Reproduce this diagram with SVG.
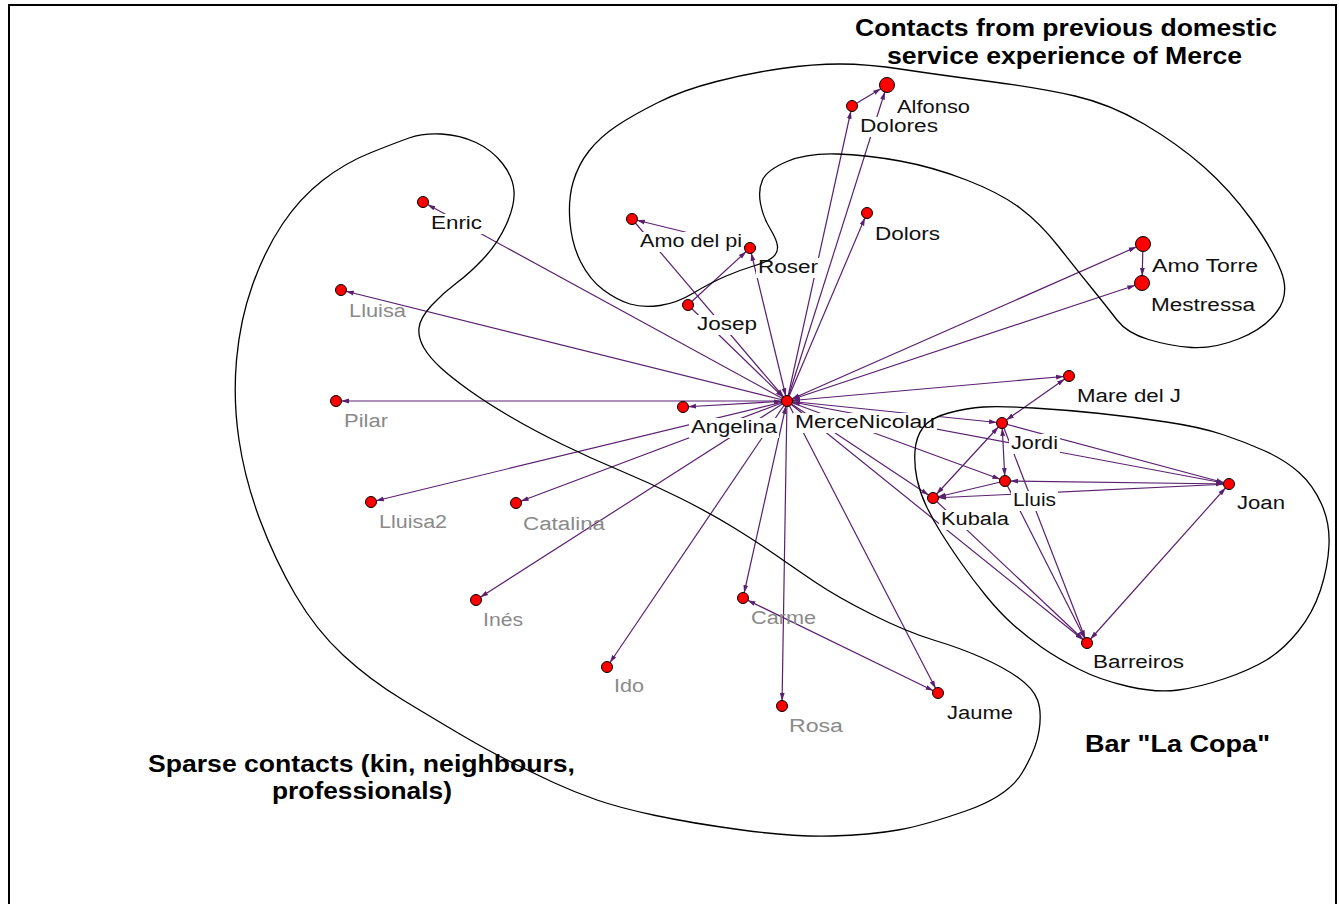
<svg xmlns="http://www.w3.org/2000/svg" width="1339" height="904" viewBox="0 0 1339 904">
<style>
.e{stroke:#5a2070;stroke-width:1.2;fill:none}
.n{fill:#ff0000;stroke:#000;stroke-width:1}
.lb{font-family:"Liberation Sans",Arial,sans-serif;font-size:18px;fill:#111}
.lg{font-family:"Liberation Sans",Arial,sans-serif;font-size:18px;fill:#8a8a8a}
.bg{fill:#fff}
.blob{fill:none;stroke:#000;stroke-width:1.3}
.t{font-family:"Liberation Sans",Arial,sans-serif;font-size:23px;font-weight:bold;fill:#000}
</style>
<defs>
<marker id="a" markerUnits="userSpaceOnUse" markerWidth="14" markerHeight="6" refX="13" refY="3" orient="auto-start-reverse"><path d="M0,0.6 L8,3 L0,5.4 z" fill="#5a2070"/></marker>
<marker id="ab" markerUnits="userSpaceOnUse" markerWidth="16" markerHeight="6" refX="15" refY="3" orient="auto-start-reverse"><path d="M0,0.6 L8,3 L0,5.4 z" fill="#5a2070"/></marker>
</defs>
<rect x="0" y="0" width="1339" height="904" fill="#fff"/>
<path d="M9,920 L9,5 L1336,5 L1336,920" fill="none" stroke="#000" stroke-width="2"/>
<g id="connectors">
<line class="e" x1="787" y1="401" x2="887" y2="85" marker-end="url(#ab)"/>
<line class="e" x1="787" y1="401" x2="852" y2="106" marker-end="url(#a)"/>
<line class="e" x1="852" y1="106" x2="887" y2="85" marker-end="url(#ab)"/>
<line class="e" x1="787" y1="401" x2="867" y2="213" marker-end="url(#a)"/>
<line class="e" x1="787" y1="401" x2="750" y2="248" marker-end="url(#a)" marker-start="url(#a)"/>
<line class="e" x1="787" y1="401" x2="632" y2="219" marker-start="url(#a)"/>
<line class="e" x1="750" y1="248" x2="632" y2="219" marker-end="url(#a)"/>
<line class="e" x1="688" y1="305" x2="750" y2="248" marker-end="url(#a)"/>
<line class="e" x1="688" y1="305" x2="787" y2="401" marker-end="url(#a)"/>
<line class="e" x1="787" y1="401" x2="423" y2="202" marker-end="url(#a)"/>
<line class="e" x1="787" y1="401" x2="1143" y2="244" marker-end="url(#ab)" marker-start="url(#a)"/>
<line class="e" x1="787" y1="401" x2="1142" y2="283" marker-end="url(#ab)" marker-start="url(#a)"/>
<line class="e" x1="1143" y1="244" x2="1142" y2="283" marker-end="url(#ab)"/>
<line class="e" x1="787" y1="401" x2="341" y2="290" marker-end="url(#a)"/>
<line class="e" x1="787" y1="401" x2="336" y2="401" marker-end="url(#a)"/>
<line class="e" x1="787" y1="401" x2="683" y2="407" marker-end="url(#a)" marker-start="url(#a)"/>
<line class="e" x1="787" y1="401" x2="371" y2="502" marker-end="url(#a)"/>
<line class="e" x1="787" y1="401" x2="516" y2="503" marker-end="url(#a)"/>
<line class="e" x1="787" y1="401" x2="476" y2="600" marker-end="url(#a)"/>
<line class="e" x1="787" y1="401" x2="607" y2="667" marker-end="url(#a)"/>
<line class="e" x1="787" y1="401" x2="743" y2="598" marker-end="url(#a)" marker-start="url(#a)"/>
<line class="e" x1="787" y1="401" x2="782" y2="706" marker-end="url(#a)"/>
<line class="e" x1="787" y1="401" x2="938" y2="693" marker-end="url(#a)"/>
<line class="e" x1="743" y1="598" x2="938" y2="693" marker-end="url(#a)" marker-start="url(#a)"/>
<line class="e" x1="787" y1="401" x2="1069" y2="376" marker-end="url(#a)" marker-start="url(#a)"/>
<line class="e" x1="1069" y1="376" x2="1002" y2="423" marker-end="url(#a)" marker-start="url(#a)"/>
<line class="e" x1="787" y1="401" x2="1002" y2="423" marker-end="url(#a)"/>
<line class="e" x1="787" y1="401" x2="1229" y2="484" marker-end="url(#a)" marker-start="url(#a)"/>
<line class="e" x1="787" y1="401" x2="1005" y2="481" marker-end="url(#a)"/>
<line class="e" x1="787" y1="401" x2="933" y2="498" marker-end="url(#a)"/>
<line class="e" x1="787" y1="401" x2="1087" y2="643" marker-end="url(#a)"/>
<line class="e" x1="933" y1="498" x2="1087" y2="643" marker-end="url(#a)"/>
<line class="e" x1="1002" y1="423" x2="1005" y2="481" marker-end="url(#a)" marker-start="url(#a)"/>
<line class="e" x1="1002" y1="423" x2="933" y2="498" marker-end="url(#a)" marker-start="url(#a)"/>
<line class="e" x1="1005" y1="481" x2="933" y2="498" marker-end="url(#a)"/>
<line class="e" x1="1229" y1="484" x2="933" y2="498" marker-end="url(#a)"/>
<line class="e" x1="1005" y1="481" x2="1229" y2="484" marker-end="url(#a)" marker-start="url(#a)"/>
<line class="e" x1="1002" y1="423" x2="1229" y2="484" marker-end="url(#a)"/>
<line class="e" x1="1002" y1="423" x2="1087" y2="643" marker-end="url(#a)"/>
<line class="e" x1="1005" y1="481" x2="1087" y2="643" marker-end="url(#a)"/>
<line class="e" x1="1229" y1="484" x2="1087" y2="643" marker-end="url(#a)" marker-start="url(#a)"/>
</g>
<g id="node-merce"><circle class="n" cx="787" cy="401" r="5.5"/><rect class="bg" x="793" y="413" width="144" height="20"/><text class="lb" x="795" y="428" textLength="140" lengthAdjust="spacingAndGlyphs">MerceNicolau</text></g>
<g id="node-angelina"><circle class="n" cx="683" cy="407" r="5.5"/><rect class="bg" x="689" y="418" width="90" height="20"/><text class="lb" x="691" y="433" textLength="86" lengthAdjust="spacingAndGlyphs">Angelina</text></g>
<g id="node-alfonso"><circle class="n" cx="887" cy="85" r="7.5"/><rect class="bg" x="895" y="98" width="77" height="20"/><text class="lb" x="897" y="113" textLength="73" lengthAdjust="spacingAndGlyphs">Alfonso</text></g>
<g id="node-dolores"><circle class="n" cx="852" cy="106" r="5.5"/><rect class="bg" x="858" y="117" width="82" height="20"/><text class="lb" x="860" y="132" textLength="78" lengthAdjust="spacingAndGlyphs">Dolores</text></g>
<g id="node-dolors"><circle class="n" cx="867" cy="213" r="5.5"/><rect class="bg" x="873" y="225" width="69" height="20"/><text class="lb" x="875" y="240" textLength="65" lengthAdjust="spacingAndGlyphs">Dolors</text></g>
<g id="node-amodelpi"><circle class="n" cx="632" cy="219" r="5.5"/><rect class="bg" x="638" y="232" width="106" height="20"/><text class="lb" x="640" y="247" textLength="102" lengthAdjust="spacingAndGlyphs">Amo del pi</text></g>
<g id="node-roser"><circle class="n" cx="750" cy="248" r="5.5"/><rect class="bg" x="756" y="258" width="64" height="20"/><text class="lb" x="758" y="273" textLength="60" lengthAdjust="spacingAndGlyphs">Roser</text></g>
<g id="node-josep"><circle class="n" cx="688" cy="305" r="5.5"/><rect class="bg" x="695" y="315" width="64" height="20"/><text class="lb" x="697" y="330" textLength="60" lengthAdjust="spacingAndGlyphs">Josep</text></g>
<g id="node-enric"><circle class="n" cx="423" cy="202" r="5.5"/><rect class="bg" x="429" y="214" width="55" height="20"/><text class="lb" x="431" y="229" textLength="51" lengthAdjust="spacingAndGlyphs">Enric</text></g>
<g id="node-amotorre"><circle class="n" cx="1143" cy="244" r="7.5"/><rect class="bg" x="1150" y="257" width="110" height="20"/><text class="lb" x="1152" y="272" textLength="106" lengthAdjust="spacingAndGlyphs">Amo Torre</text></g>
<g id="node-mestressa"><circle class="n" cx="1142" cy="283" r="7.5"/><rect class="bg" x="1149" y="296" width="108" height="20"/><text class="lb" x="1151" y="311" textLength="104" lengthAdjust="spacingAndGlyphs">Mestressa</text></g>
<g id="node-marej"><circle class="n" cx="1069" cy="376" r="5.5"/><rect class="bg" x="1075" y="387" width="108" height="20"/><text class="lb" x="1077" y="402" textLength="104" lengthAdjust="spacingAndGlyphs">Mare del J</text></g>
<g id="node-jordi"><circle class="n" cx="1002" cy="423" r="5.5"/><rect class="bg" x="1009" y="434" width="51" height="20"/><text class="lb" x="1011" y="449" textLength="47" lengthAdjust="spacingAndGlyphs">Jordi</text></g>
<g id="node-lluis"><circle class="n" cx="1005" cy="481" r="5.5"/><rect class="bg" x="1011" y="491" width="47" height="20"/><text class="lb" x="1013" y="506" textLength="43" lengthAdjust="spacingAndGlyphs">Lluis</text></g>
<g id="node-kubala"><circle class="n" cx="933" cy="498" r="5.5"/><rect class="bg" x="939" y="510" width="72" height="20"/><text class="lb" x="941" y="525" textLength="68" lengthAdjust="spacingAndGlyphs">Kubala</text></g>
<g id="node-joan"><circle class="n" cx="1229" cy="484" r="5.5"/><rect class="bg" x="1235" y="494" width="52" height="20"/><text class="lb" x="1237" y="509" textLength="48" lengthAdjust="spacingAndGlyphs">Joan</text></g>
<g id="node-barreiros"><circle class="n" cx="1087" cy="643" r="5.5"/><rect class="bg" x="1091" y="653" width="95" height="20"/><text class="lb" x="1093" y="668" textLength="91" lengthAdjust="spacingAndGlyphs">Barreiros</text></g>
<g id="node-jaume"><circle class="n" cx="938" cy="693" r="5.5"/><text class="lb" x="947" y="719" textLength="66" lengthAdjust="spacingAndGlyphs">Jaume</text></g>
<g id="node-lluisa"><circle class="n" cx="341" cy="290" r="5.5"/><text class="lg" x="349" y="317" textLength="57" lengthAdjust="spacingAndGlyphs">Lluisa</text></g>
<g id="node-pilar"><circle class="n" cx="336" cy="401" r="5.5"/><text class="lg" x="344" y="427" textLength="44" lengthAdjust="spacingAndGlyphs">Pilar</text></g>
<g id="node-lluisa2"><circle class="n" cx="371" cy="502" r="5.5"/><text class="lg" x="379" y="528" textLength="68" lengthAdjust="spacingAndGlyphs">Lluisa2</text></g>
<g id="node-catalina"><circle class="n" cx="516" cy="503" r="5.5"/><text class="lg" x="523" y="530" textLength="82" lengthAdjust="spacingAndGlyphs">Catalina</text></g>
<g id="node-ines"><circle class="n" cx="476" cy="600" r="5.5"/><text class="lg" x="483" y="626" textLength="40" lengthAdjust="spacingAndGlyphs">Inés</text></g>
<g id="node-ido"><circle class="n" cx="607" cy="667" r="5.5"/><text class="lg" x="614" y="692" textLength="30" lengthAdjust="spacingAndGlyphs">Ido</text></g>
<g id="node-carme"><circle class="n" cx="743" cy="598" r="5.5"/><text class="lg" x="751" y="624" textLength="65" lengthAdjust="spacingAndGlyphs">Carme</text></g>
<g id="node-rosa"><circle class="n" cx="782" cy="706" r="5.5"/><text class="lg" x="789" y="732" textLength="54" lengthAdjust="spacingAndGlyphs">Rosa</text></g>
<g id="groups">
<path class="blob" d="M370,153 Q395,143 409,138 Q423,133 441.5,134 Q460,135 476,142.5 Q492,150 502.5,163.5 Q513,177 514,191 Q515,205 506.5,224 Q498,243 484,258 Q470,273 456.5,283 Q443,293 431.5,305.5 Q420,318 419,328 Q418,338 424,348 Q430,358 441,368 Q452,378 469.5,390.5 Q487,403 510,416.5 Q533,430 561.5,444 Q590,458 620,470.5 Q650,483 680,498 Q710,513 733.5,527.5 Q757,542 773.5,553.5 Q790,565 813.5,581 Q837,597 872,614.5 Q907,632 933.5,640 Q960,648 981.5,657.5 Q1003,667 1018,677.5 Q1033,688 1037.5,700 Q1042,712 1039,731 Q1036,750 1022,773 Q1008,796 967,810.5 Q926,825 898,830 Q870,835 831.5,836 Q793,837 742,830 Q691,823 655.5,815.5 Q620,808 597,800 Q574,792 553.5,782.5 Q533,773 510,761.5 Q487,750 461.5,735 Q436,720 403,700 Q370,680 343,655 Q316,630 295.5,595 Q275,560 260,520 Q245,480 239,440 Q233,400 236.5,360 Q240,320 252.5,285 Q265,250 282.5,224 Q300,198 322.5,180.5 Q345,163 370,153 Z"/>
<path class="blob" d="M589,151 Q600,137 616.5,126 Q633,115 658,102.5 Q683,90 716.5,81.5 Q750,73 781.5,68.5 Q813,64 840,64 Q867,64 903.5,69.5 Q940,75 990,81.5 Q1040,88 1075,96 Q1110,104 1144,124 Q1178,144 1204,167 Q1230,190 1251,219 Q1272,248 1281,271 Q1290,294 1277,311.5 Q1264,329 1238.5,339 Q1213,349 1191.5,347.5 Q1170,346 1148.5,339.5 Q1127,333 1117,320 Q1107,307 1092,288.5 Q1077,270 1058.5,246.5 Q1040,223 1020,208 Q1000,193 966.5,180 Q933,167 900,161 Q867,155 837,154 Q807,153 787,161.5 Q767,170 762.5,180 Q758,190 760.5,203.5 Q763,217 770,228.5 Q777,240 777.5,246.5 Q778,253 772.5,257.5 Q767,262 753.5,266 Q740,270 725,276.5 Q710,283 693.5,293 Q677,303 660,305.5 Q643,308 630,304 Q617,300 603.5,290 Q590,280 581,262.5 Q572,245 570,222.5 Q568,200 573,182.5 Q578,165 589,151 Z"/>
<path class="blob" d="M923,427.5 Q930,418 948.5,413 Q967,408 983.5,407 Q1000,406 1033.5,408 Q1067,410 1100,413.5 Q1133,417 1166.5,422 Q1200,427 1222.5,434.5 Q1245,442 1265,451 Q1285,460 1299,472.5 Q1313,485 1321.5,504 Q1330,523 1329,545 Q1328,567 1320.5,590 Q1313,613 1298,631.5 Q1283,650 1266.5,660 Q1250,670 1225,678.5 Q1200,687 1178.5,690 Q1157,693 1128.5,686.5 Q1100,680 1078.5,669 Q1057,658 1042,647.5 Q1027,637 1013.5,625 Q1000,613 986.5,596.5 Q973,580 961.5,563.5 Q950,547 941.5,533.5 Q933,520 926.5,506.5 Q920,493 917,479 Q914,465 915,451 Q916,437 923,427.5 Z"/>
</g>
<g id="titles">
<text class="t" x="855" y="36" textLength="422" lengthAdjust="spacingAndGlyphs">Contacts from previous domestic</text>
<text class="t" x="887" y="64" textLength="355" lengthAdjust="spacingAndGlyphs">service experience of Merce</text>
<text class="t" x="148" y="772" textLength="427" lengthAdjust="spacingAndGlyphs">Sparse contacts (kin, neighbours,</text>
<text class="t" x="272" y="799" textLength="180" lengthAdjust="spacingAndGlyphs">professionals)</text>
<text class="t" x="1085" y="752" textLength="185" lengthAdjust="spacingAndGlyphs">Bar "La Copa"</text>
</g>
</svg>
